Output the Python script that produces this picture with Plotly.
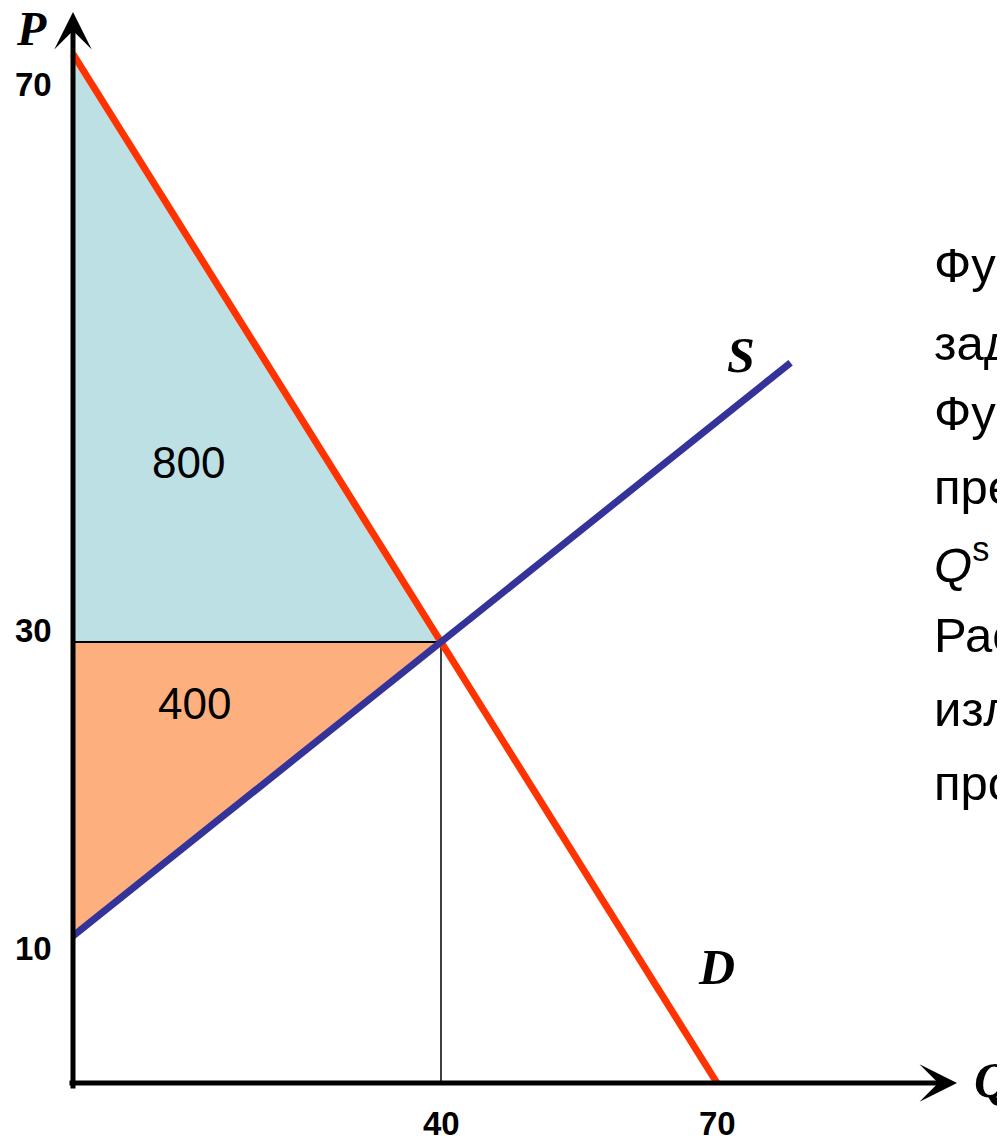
import plotly.graph_objects as go

# ---- data ----
demand_q = [0, 70]
demand_p = [70, 0]
supply_q = [0, 40, 78]
supply_p = [10, 30, 49]
eq_q, eq_p = 40, 30
p_max, p_min = 70, 10
cs_value, ps_value = 800, 400
y_ticks = [70, 30, 10]
x_ticks = [40, 70]
text_lines = [
    "Функция спроса",
    "задана уравнением <i>Q</i><sup>d</sup> = 70 – P.",
    "Функция",
    "предложения задана:",
    "<i>Q</i><sup>s</sup> = 2P – 20.",
    "Рассчитайте",
    "излишки потребителя",
    "производителя.",
]

OFF = 8                      # page body margin of the html page
W, H = 1005 - OFF, 1140 - OFF
X0, Y0 = 73 - OFF, 1083 - OFF   # origin in figure pixels
SX, SY = 9.2, 14.7              # pixels per unit
xr = [-X0 / SX, (W - X0) / SX]
yr = [-(H - Y0) / SY, Y0 / SY]

# vertical nudges (pixels) of y tick labels relative to their value, as in the original
Y_TICK_NUDGE = {70: -30, 30: 12, 10: -12}

def qx(px):                     # screen pixel -> Q units
    return (px - OFF - X0) / SX

def py(pxy):                    # screen pixel -> P units
    return (Y0 - (pxy - OFF)) / SY

def paper_x(px):
    return (px - OFF) / W

def paper_y(pxy):
    return 1 - (pxy - OFF) / H

SANS = "Liberation Sans, Arial, sans-serif"
SERIF = "Liberation Serif, Times New Roman, serif"

fig = go.Figure()

# consumer surplus
fig.add_trace(go.Scatter(x=[0, 0, eq_q, 0], y=[p_max, eq_p, eq_p, p_max], fill="toself",
                         fillcolor="#BCE0E3", line=dict(width=0), mode="lines", hoverinfo="skip"))
# producer surplus
fig.add_trace(go.Scatter(x=[0, 0, eq_q, 0], y=[eq_p, p_min, eq_p, eq_p], fill="toself",
                         fillcolor="#FDAF7E", line=dict(width=0), mode="lines", hoverinfo="skip"))
# equilibrium guide lines
fig.add_trace(go.Scatter(x=[0, eq_q], y=[eq_p, eq_p], mode="lines",
                         line=dict(color="black", width=2), hoverinfo="skip"))
fig.add_trace(go.Scatter(x=[eq_q, eq_q], y=[0, eq_p], mode="lines",
                         line=dict(color="black", width=1.5), hoverinfo="skip"))
# demand
fig.add_trace(go.Scatter(x=demand_q, y=demand_p, mode="lines",
                         line=dict(color="#FF3300", width=7), hoverinfo="skip"))
# supply
fig.add_trace(go.Scatter(x=supply_q, y=supply_p, mode="lines",
                         line=dict(color="#333399", width=7), hoverinfo="skip"))

ann = []
# axes with arrows
ann.append(dict(x=qx(957), y=0, ax=qx(68), ay=0, xref="x", yref="y", axref="x", ayref="y",
                text="", showarrow=True, arrowhead=3, arrowsize=1.25, arrowwidth=5, arrowcolor="black",
                standoff=0, startstandoff=0))
ann.append(dict(x=0, y=py(12), ax=0, ay=py(1090), xref="x", yref="y", axref="x", ayref="y",
                text="", showarrow=True, arrowhead=3, arrowsize=1.25, arrowwidth=5, arrowcolor="black",
                standoff=0, startstandoff=0))

def label(px, pyy, txt, size=50, family=SERIF):
    return dict(x=paper_x(px), y=paper_y(pyy), xref="paper", yref="paper", text=txt,
                showarrow=False, xanchor="center", yanchor="middle",
                font=dict(family=family, size=size, color="black"))

# axis titles & curve labels
ann.append(label(31, 28, "<b><i>P</i></b>", size=48))
ann.append(label(992, 1080, "<b><i>Q</i></b>"))
ann.append(dict(x=supply_q[-1], y=supply_p[-1], xref="x", yref="y", text="<b><i>S</i></b>",
                showarrow=False, xshift=-50, yshift=8, xanchor="center", yanchor="middle",
                font=dict(family=SERIF, size=50, color="black")))
ann.append(label(716, 967, "<b><i>D</i></b>"))
# tick labels
for v in y_ticks:
    ann.append(dict(x=qx(54), y=v, xref="x", yref="y", text=f"<b>{v}</b>", showarrow=False,
                    xanchor="right", yanchor="middle", yshift=Y_TICK_NUDGE[v],
                    font=dict(family=SANS, size=33, color="black")))
for v in x_ticks:
    ann.append(dict(x=v, y=py(1123), xref="x", yref="y", text=f"<b>{v}</b>", showarrow=False,
                    xanchor="center", yanchor="middle",
                    font=dict(family=SANS, size=33, color="black")))
# surplus values
ann.append(dict(x=qx(188), y=py(462), xref="x", yref="y", text=str(cs_value), showarrow=False,
                xanchor="center", yanchor="middle", font=dict(family=SANS, size=44, color="black")))
ann.append(dict(x=qx(194), y=py(703), xref="x", yref="y", text=str(ps_value), showarrow=False,
                xanchor="center", yanchor="middle", font=dict(family=SANS, size=44, color="black")))
# right-side task text
for i, line in enumerate(text_lines):
    base = 282 + 74 * i
    ann.append(dict(x=paper_x(932), y=paper_y(base - 17), xref="paper", yref="paper", text=line,
                    showarrow=False, xanchor="left", yanchor="middle",
                    font=dict(family=SANS, size=49, color="black")))

fig.update_layout(
    width=W, height=H, margin=dict(l=0, r=0, t=0, b=0),
    paper_bgcolor="white", plot_bgcolor="white", showlegend=False,
    xaxis=dict(range=xr, visible=False, fixedrange=True),
    yaxis=dict(range=yr, visible=False, fixedrange=True),
    annotations=ann,
)

fig.write_html("out.html")
